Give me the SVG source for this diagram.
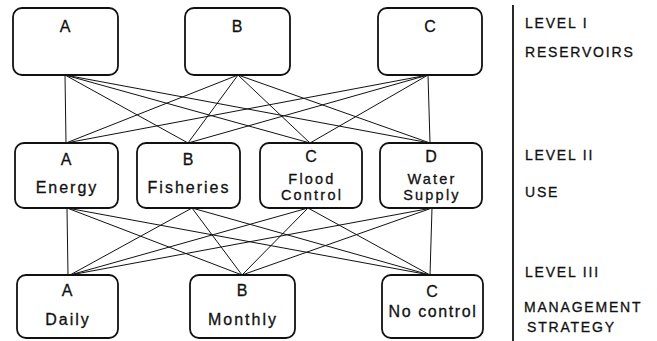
<svg xmlns="http://www.w3.org/2000/svg" width="657" height="341" viewBox="0 0 657 341">
<style>
.box{fill:#fff;stroke:#111;stroke-width:1.8}
.t{font-family:"Liberation Sans",Arial,sans-serif;font-size:16px;fill:#111;stroke:#111;stroke-width:0.3;text-anchor:middle;letter-spacing:2px}
.s{font-size:14.5px;letter-spacing:2.2px}
.lab{font-family:"Liberation Sans",Arial,sans-serif;font-size:14px;fill:#111;stroke:#111;stroke-width:0.3;letter-spacing:1.8px}
.c line{stroke:#111;stroke-width:1}
</style>
<rect width="657" height="341" fill="#fff"/>
<g class="c" id="connectors">
<line x1="65" y1="75" x2="66" y2="143"/>
<line x1="65" y1="75" x2="188" y2="143"/>
<line x1="65" y1="75" x2="310" y2="143"/>
<line x1="65" y1="75" x2="430" y2="143"/>
<line x1="238" y1="75" x2="66" y2="143"/>
<line x1="238" y1="75" x2="188" y2="143"/>
<line x1="238" y1="75" x2="310" y2="143"/>
<line x1="238" y1="75" x2="430" y2="143"/>
<line x1="428" y1="75" x2="66" y2="143"/>
<line x1="428" y1="75" x2="188" y2="143"/>
<line x1="428" y1="75" x2="310" y2="143"/>
<line x1="428" y1="75" x2="430" y2="143"/>
<line x1="67" y1="208" x2="68" y2="275"/>
<line x1="67" y1="208" x2="242" y2="275"/>
<line x1="67" y1="208" x2="430" y2="275"/>
<line x1="192" y1="208" x2="70" y2="275"/>
<line x1="192" y1="208" x2="242" y2="275"/>
<line x1="192" y1="208" x2="430" y2="275"/>
<line x1="308" y1="208" x2="70" y2="275"/>
<line x1="308" y1="208" x2="242" y2="275"/>
<line x1="308" y1="208" x2="430" y2="275"/>
<line x1="432" y1="208" x2="70" y2="275"/>
<line x1="432" y1="208" x2="242" y2="275"/>
<line x1="432" y1="208" x2="430" y2="275"/>
<line x1="513" y1="5" x2="513" y2="341" style="stroke-width:1.8"/>
</g>
<g id="resA"><rect class="box" x="13" y="8" width="105" height="67" rx="9"/><text class="t" x="66" y="32">A</text></g>
<g id="resB"><rect class="box" x="185" y="8" width="105" height="67" rx="9"/><text class="t" x="238" y="32">B</text></g>
<g id="resC"><rect class="box" x="378" y="8" width="104" height="67" rx="9"/><text class="t" x="431" y="32">C</text></g>
<g id="useA"><rect class="box" x="15" y="143" width="103" height="65" rx="9"/><text class="t" x="67" y="165">A</text><text class="t" x="67" y="193">Energy</text></g>
<g id="useB"><rect class="box" x="137" y="143" width="103" height="65" rx="9"/><text class="t" x="189" y="165">B</text><text class="t" x="189" y="193">Fisheries</text></g>
<g id="useC"><rect class="box" x="260" y="143" width="102" height="65" rx="9"/><text class="t" x="312" y="162">C</text><text class="t s" x="312" y="183.5">Flood</text><text class="t s" x="312" y="199.5">Control</text></g>
<g id="useD"><rect class="box" x="380" y="143" width="102" height="65" rx="9"/><text class="t" x="432" y="162">D</text><text class="t s" x="432" y="183.5">Water</text><text class="t s" x="432" y="199.5">Supply</text></g>
<g id="msA"><rect class="box" x="17" y="275" width="101" height="63" rx="9"/><text class="t" x="68" y="296">A</text><text class="t" x="68" y="325">Daily</text></g>
<g id="msB"><rect class="box" x="190" y="275" width="105" height="63" rx="9"/><text class="t" x="243" y="296">B</text><text class="t" x="243" y="325">Monthly</text></g>
<g id="msC"><rect class="box" x="382" y="275" width="101" height="63" rx="9"/><text class="t" x="433" y="297">C</text><text class="t" x="433" y="317" style="letter-spacing:1.6px">No control</text></g>
<g id="labels">
<text class="lab" x="525" y="28">LEVEL I</text>
<text class="lab" x="525" y="57">RESERVOIRS</text>
<text class="lab" x="525" y="160">LEVEL II</text>
<text class="lab" x="525" y="197">USE</text>
<text class="lab" x="525" y="277">LEVEL III</text>
<text class="lab" x="524" y="312">MANAGEMENT</text>
<text class="lab" x="527" y="332">STRATEGY</text>
</g>
</svg>
